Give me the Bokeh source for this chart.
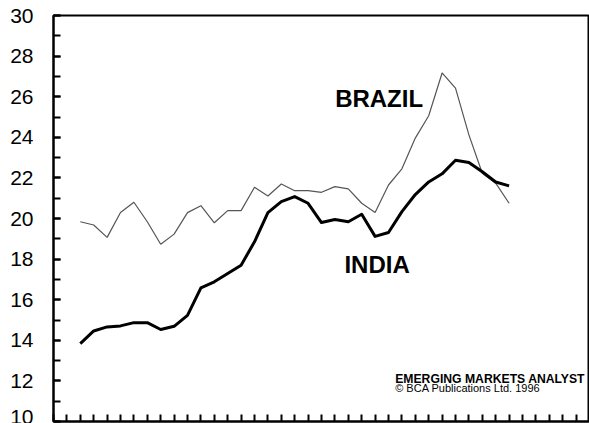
from bokeh.plotting import figure
from bokeh.models import Range1d, SingleIntervalTicker, Label, LinearAxis
from bokeh.embed import file_html
from bokeh.resources import INLINE

# quarter index positions (one per tick)
quarters = list(range(2, 35))

brazil = [19.84, 19.68, 19.07, 20.30, 20.80, 19.84, 18.73, 19.23, 20.29, 20.63,
          19.79, 20.39, 20.39, 21.54, 21.11, 21.70, 21.37, 21.37, 21.29, 21.57,
          21.46, 20.75, 20.30, 21.65, 22.45, 23.96, 25.06, 27.17, 26.42, 24.12,
          22.23, 21.74, 20.75]

india = [13.84, 14.46, 14.66, 14.71, 14.87, 14.87, 14.53, 14.69, 15.23, 16.58,
         16.88, 17.29, 17.70, 18.85, 20.29, 20.83, 21.08, 20.75, 19.80, 19.95,
         19.84, 20.21, 19.12, 19.31, 20.34, 21.18, 21.80, 22.20, 22.87, 22.76,
         22.30, 21.80, 21.61]

x_ticks = list(range(0, 41))
series_labels = ["BRAZIL", "INDIA"]
source_lines = ["EMERGING MARKETS ANALYST", "\u00a9 BCA Publications Ltd. 1996"]

FONT = "Liberation Sans"

p = figure(width=589, height=423, output_backend="svg", toolbar_location=None,
           x_range=Range1d(0, 40), y_range=Range1d(10, 30),
           x_axis_location=None, y_axis_location=None,
           min_border_left=53, min_border_right=0, min_border_top=15, min_border_bottom=2)

p.background_fill_color = "white"
p.border_fill_color = "white"
p.outline_line_color = "black"
p.outline_line_width = 2
p.xgrid.visible = False
p.ygrid.visible = False

yax = LinearAxis(ticker=SingleIntervalTicker(interval=2, num_minor_ticks=2))
yax.major_tick_in = 7
yax.major_tick_out = 0
yax.minor_tick_in = 7
yax.minor_tick_out = 0
yax.major_tick_line_width = 2
yax.minor_tick_line_width = 2
yax.axis_line_width = 2
yax.major_label_standoff = 20
yax.major_label_text_font = FONT
yax.major_label_text_font_size = "21px"
yax.major_label_text_color = "black"
p.add_layout(yax, "left")

xax = LinearAxis(ticker=SingleIntervalTicker(interval=1, num_minor_ticks=0))
xax.major_tick_in = 7
xax.major_tick_out = 0
xax.major_tick_line_width = 2
xax.minor_tick_in = 0
xax.minor_tick_out = 0
xax.axis_line_width = 2
xax.major_label_overrides = {t: "" for t in x_ticks}
xax.major_label_standoff = 0
p.add_layout(xax, "below")

p.line(quarters, brazil, line_color="#555555", line_width=1.2)
p.line(quarters, india, line_color="black", line_width=3, line_join="round")

p.add_layout(Label(x=24.3, y=25.89, text=series_labels[0], text_align="center",
                   text_baseline="middle", text_font=FONT, text_font_size="24px",
                   text_font_style="bold", text_color="black"))
p.add_layout(Label(x=24.15, y=17.75, text=series_labels[1], text_align="center",
                   text_baseline="middle", text_font=FONT, text_font_size="24px",
                   text_font_style="bold", text_color="black"))
p.add_layout(Label(x=25.5, y=12.07, text=source_lines[0], text_align="left",
                   text_baseline="middle", text_font=FONT, text_font_size="12.2px",
                   text_font_style="bold", text_color="black"))
p.add_layout(Label(x=25.5, y=11.63, text=source_lines[1], text_align="left",
                   text_baseline="middle", text_font=FONT, text_font_size="11px",
                   text_color="black"))

open("out.html", "w").write(file_html(p, INLINE))
